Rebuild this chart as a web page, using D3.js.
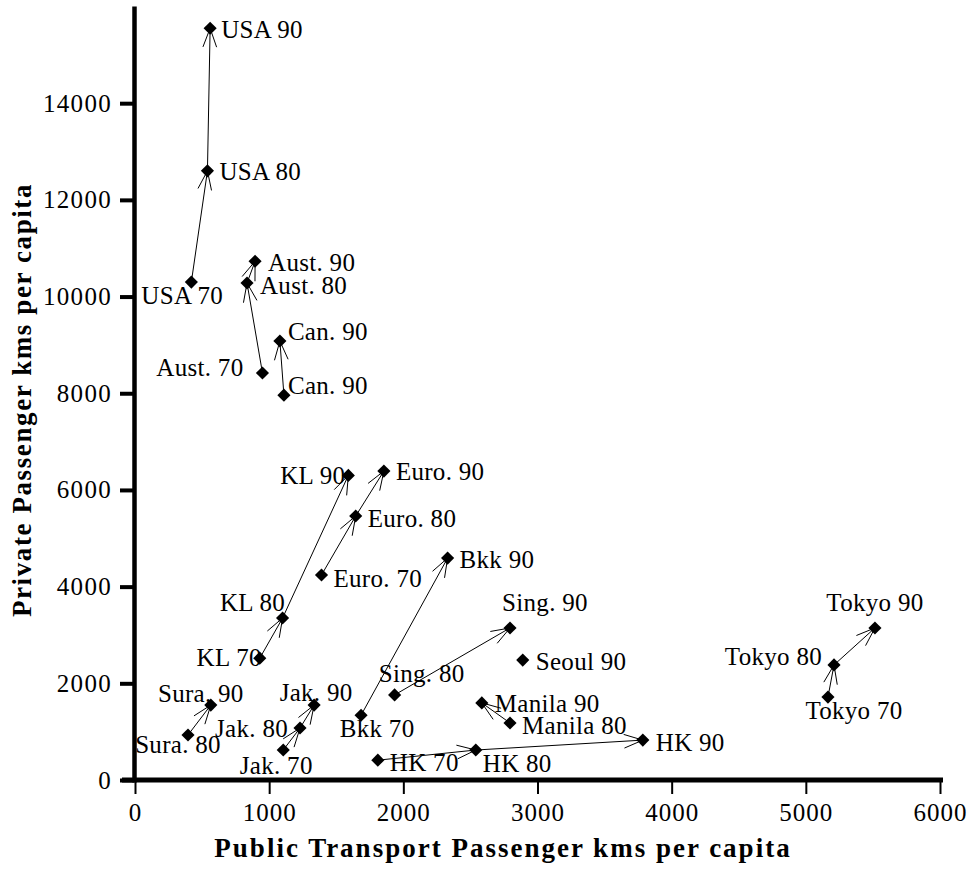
<!DOCTYPE html>
<html>
<head>
<meta charset="utf-8">
<script src="https://cdn.jsdelivr.net/npm/d3@7"></script>
<style>
  html, body { margin: 0; padding: 0; background: #fff; }
  svg { display: block; }
</style>
</head>
<body>
<svg id="chart" width="971" height="883"></svg>
<script>
// ---- data ----
const pointLabels = [
  "USA 70","USA 80","USA 90",
  "Aust. 70","Aust. 80","Aust. 90",
  "Can. 90","Can. 90",
  "KL 70","KL 80","KL 90",
  "Euro. 70","Euro. 80","Euro. 90",
  "Bkk 70","Bkk 90",
  "Sing. 80","Sing. 90",
  "Seoul 90",
  "Sura. 80","Sura. 90",
  "Jak. 70","Jak. 80","Jak. 90",
  "HK 70","HK 80","HK 90",
  "Manila 80","Manila 90",
  "Tokyo 70","Tokyo 80","Tokyo 90"
];
const publicKms = [
  420, 540, 560,
  950, 835, 895,
  1110, 1080,
  930, 1100, 1590,
  1390, 1645, 1855,
  1685, 2330,
  1935, 2795,
  2890,
  395, 565,
  1105, 1230, 1335,
  1810, 2540, 3785,
  2795, 2585,
  5165, 5210, 5515
];
const privateKms = [
  10300, 12600, 15550,
  8420, 10280, 10730,
  7960, 9080,
  2520, 3350, 6300,
  4240, 5460, 6390,
  1340, 4590,
  1760, 3145,
  2480,
  930, 1550,
  620, 1075, 1550,
  410, 620, 825,
  1180, 1595,
  1715, 2380, 3145
];
const arrowFrom = [0, 1, 3, 4, 6, 8, 9, 11, 12, 14, 16, 19, 21, 22, 24, 25, 27, 29, 30];
const arrowTo   = [1, 2, 4, 5, 7, 9, 10, 12, 13, 15, 17, 20, 22, 23, 25, 26, 28, 30, 31];
const xTicks = [0, 1000, 2000, 3000, 4000, 5000, 6000];
const yTicks = [0, 2000, 4000, 6000, 8000, 10000, 12000, 14000];
const xTitle = "Public Transport Passenger kms per capita";
const yTitle = "Private Passenger kms per capita";

// ---- label layout (anchor, dx, dy of text centre relative to point) ----
const labelLayout = [
  ["start",-50,14],["start",12,1],["start",11,2],
  ["end",-19,-5],["start",13,3],["start",13,2],
  ["start",4,-9],["start",8,-9],
  ["end",2,0],["middle",-30,-15],["end",-3,1],
  ["start",12,4],["start",12,3],["start",12,1],
  ["middle",16,14],["start",12,2],
  ["middle",27,-21],["middle",35,-25],
  ["start",13,2],
  ["middle",-10,10],["middle",-10,-11],
  ["middle",-7,16],["end",-12,1],["middle",2,-12],
  ["start",12,3],["start",7,14],["start",13,3],
  ["start",12,3],["start",13,1],
  ["middle",26,14],["end",-12,-8],["middle",0,-25]
];

const svg = d3.select("#chart");
const x = d3.scaleLinear().domain([0, 6000]).range([135, 940]);
const y = d3.scaleLinear().domain([0, 16000]).range([780, 6.5]);

const serif = "'Liberation Serif', 'Times New Roman', Times, serif";

// axes
const xAxis = svg.append("g").attr("transform", "translate(0,780)")
  .call(d3.axisBottom(x).tickValues(xTicks).tickSize(14).tickPadding(9).tickFormat(d3.format("d")));
xAxis.select(".domain").remove();
xAxis.selectAll(".tick line").attr("stroke", "#000").attr("stroke-width", 2);
xAxis.selectAll(".tick text").attr("font-family", serif).attr("font-size", 25)
  .attr("letter-spacing", 1).attr("fill", "#000");

const yAxis = svg.append("g").attr("transform", "translate(134,0)")
  .call(d3.axisLeft(y).tickValues(yTicks).tickSize(14).tickPadding(8).tickFormat(d3.format("d")));
yAxis.select(".domain").remove();
yAxis.selectAll(".tick line").attr("stroke", "#000").attr("stroke-width", 4);
yAxis.selectAll(".tick text").attr("font-family", serif).attr("font-size", 25)
  .attr("letter-spacing", 1.3).attr("fill", "#000");

// axis lines
svg.append("line").attr("x1", 122).attr("x2", x(6000) + 3).attr("y1", y(0)).attr("y2", y(0))
  .attr("stroke", "#000").attr("stroke-width", 5);
svg.append("line").attr("x1", 134.5).attr("x2", 134.5).attr("y1", y(16000)).attr("y2", y(0) + 2.5)
  .attr("stroke", "#000").attr("stroke-width", 4.5);

// arrows
const arrowG = svg.append("g");
const headLen = 20, headAng = 20 * Math.PI / 180;
arrowFrom.forEach((f, i) => {
  const t = arrowTo[i];
  const x1 = x(publicKms[f]), y1 = y(privateKms[f]);
  const x2 = x(publicKms[t]), y2 = y(privateKms[t]);
  arrowG.append("line").attr("x1", x1).attr("y1", y1).attr("x2", x2).attr("y2", y2)
    .attr("stroke", "#000").attr("stroke-width", 1);
  const a = Math.atan2(y1 - y2, x1 - x2);
  const p = d3.path();
  p.moveTo(x2 + headLen * Math.cos(a + headAng), y2 + headLen * Math.sin(a + headAng));
  p.lineTo(x2, y2);
  p.lineTo(x2 + headLen * Math.cos(a - headAng), y2 + headLen * Math.sin(a - headAng));
  arrowG.append("path").attr("d", p.toString()).attr("fill", "none")
    .attr("stroke", "#000").attr("stroke-width", 1);
});

// points
const diamond = d3.symbol().type(d3.symbolDiamond2).size(110);
svg.append("g").selectAll("path").data(pointLabels).join("path")
  .attr("transform", (d, i) => `translate(${x(publicKms[i])},${y(privateKms[i])})`)
  .attr("d", diamond).attr("fill", "#000");

// labels
svg.append("g").selectAll("text").data(pointLabels).join("text")
  .attr("x", (d, i) => x(publicKms[i]) + labelLayout[i][1])
  .attr("y", (d, i) => y(privateKms[i]) + labelLayout[i][2] + 8)
  .attr("text-anchor", (d, i) => labelLayout[i][0])
  .attr("font-family", serif).attr("font-size", 25).attr("fill", "#000")
  .attr("letter-spacing", 0.3)
  .text(d => d);

// titles
svg.append("text").attr("x", 503).attr("y", 857).attr("text-anchor", "middle")
  .attr("font-family", serif).attr("font-size", 27).attr("font-weight", "bold")
  .attr("letter-spacing", 2).text(xTitle);
svg.append("text").attr("transform", "translate(31,400) rotate(-90)").attr("text-anchor", "middle")
  .attr("font-family", serif).attr("font-size", 27).attr("font-weight", "bold")
  .attr("letter-spacing", 1.6).text(yTitle);
</script>
</body>
</html>
